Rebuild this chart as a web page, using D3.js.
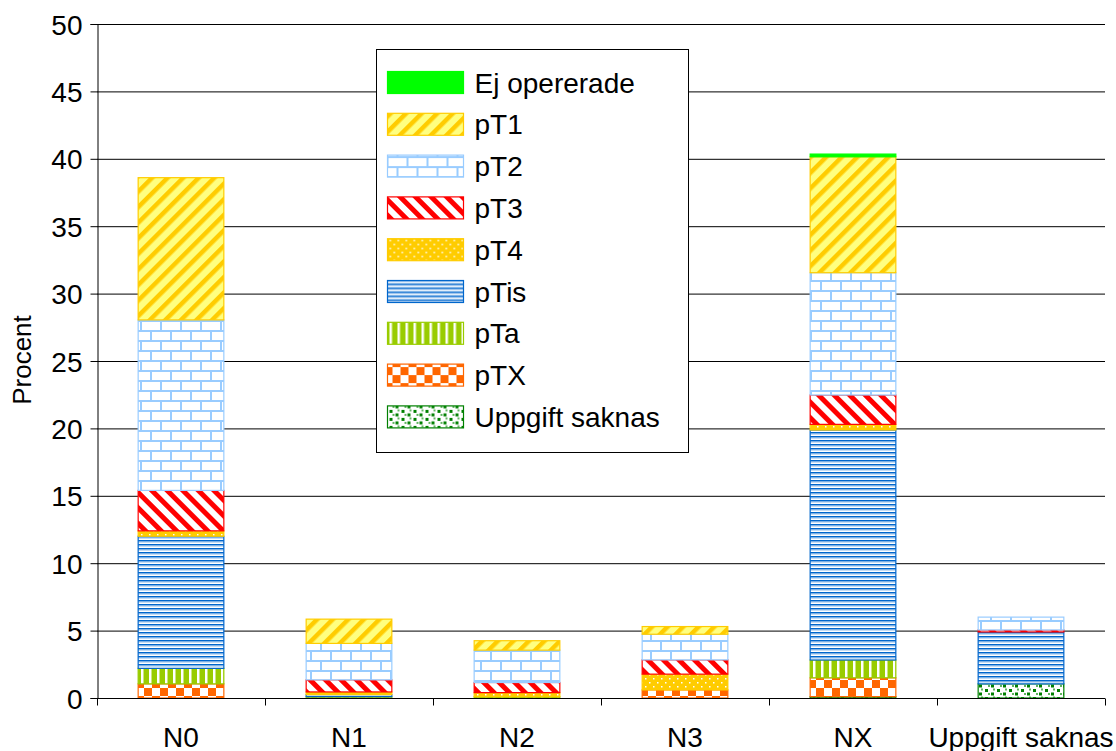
<!DOCTYPE html>
<html>
<head>
<meta charset="utf-8">
<script src="https://cdn.jsdelivr.net/npm/d3@7/dist/d3.min.js"></script>
<style>
  body { margin: 0; background: #fff; }
  text { font-family: "Liberation Sans", Arial, sans-serif; fill: #000; }
</style>
</head>
<body>
<div id="chart"></div>
<script>
'use strict';

// categories along the x axis
var categories = ['N0', 'N1', 'N2', 'N3', 'NX', 'Uppgift saknas'];

// series, bottom of the stack first
var seriesNames = ['Uppgift saknas', 'pTX', 'pTa', 'pTis', 'pT4', 'pT3', 'pT2', 'pT1', 'Ej opererade'];

var uppgiftSaknas = [0,    0,    0,    0,    0.1,  1.05];
var pTX           = [1.05, 0,    0,    0.6,  1.4,  0];
var pTa           = [1.15, 0.1,  0.1,  0,    1.32, 0];
var pTis          = [9.8,  0.15, 0,    0,    17.06, 3.85];
var pT4           = [0.4,  0.2,  0.3,  1.17, 0.42, 0];
var pT3           = [3.0,  0.9,  0.75, 1.06, 2.18, 0.15];
var pT2           = [12.65, 2.7, 2.4,  1.9,  9.07, 0.95];
var pT1           = [10.55, 1.8, 0.7,  0.57, 8.6,  0];
var ejOpererade   = [0,    0,    0,    0,    0.2,  0];

var yTicks = [0, 5, 10, 15, 20, 25, 30, 35, 40, 45, 50];

var seriesValues = [uppgiftSaknas, pTX, pTa, pTis, pT4, pT3, pT2, pT1, ejOpererade];

// table for d3.stack
var rows = categories.map(function(c, i){
  var row = { cat: c };
  seriesNames.forEach(function(s, j){ row[s] = seriesValues[j][i]; });
  return row;
});

var width = 1116, height = 751;
var plotLeft = 97, plotRight = 1105, plotTop = 24, plotBottom = 698;

var svg = d3.select('#chart').append('svg')
  .attr('width', width)
  .attr('height', height);

var defs = svg.append('defs');

// pattern helpers
var pat = function(id, w, h, transform){
  var p = defs.append('pattern')
    .attr('id', id)
    .attr('patternUnits', 'userSpaceOnUse')
    .attr('width', w)
    .attr('height', h);
  if(transform) p.attr('patternTransform', transform);
  return p;
};

// Ej opererade: solid green
pat('p-ej', 10, 10).append('rect').attr('width', 10).attr('height', 10).attr('fill', '#00ff00');

// pT1: wide upward diagonal, yellow
var p1 = pat('p-t1', 11, 11, 'rotate(45)');
p1.append('rect').attr('width', 11).attr('height', 11).attr('fill', '#ffff80');
p1.append('rect').attr('width', 4.5).attr('height', 11).attr('fill', '#ffcc00');

// pT2: bricks, light blue
var p2 = pat('p-t2', 20, 20);
p2.append('rect').attr('width', 20).attr('height', 20).attr('fill', '#fff');
p2.append('rect').attr('x', 0).attr('y', 0).attr('width', 20).attr('height', 2).attr('fill', '#99ccff');
p2.append('rect').attr('x', 0).attr('y', 10).attr('width', 20).attr('height', 2).attr('fill', '#99ccff');
p2.append('rect').attr('x', 0).attr('y', 0).attr('width', 2).attr('height', 10).attr('fill', '#99ccff');
p2.append('rect').attr('x', 10).attr('y', 10).attr('width', 2).attr('height', 10).attr('fill', '#99ccff');

// pT3: wide downward diagonal, red
var p3 = pat('p-t3', 11, 11, 'rotate(-45)');
p3.append('rect').attr('width', 11).attr('height', 11).attr('fill', '#fff');
p3.append('rect').attr('width', 5).attr('height', 11).attr('fill', '#ff0000');

// pT4: dotted yellow
var p4 = pat('p-t4', 8, 8);
p4.append('rect').attr('width', 8).attr('height', 8).attr('fill', '#ffcc00');
p4.append('rect').attr('x', 1).attr('y', 2).attr('width', 1.5).attr('height', 1.5).attr('fill', '#fff');
p4.append('rect').attr('x', 5).attr('y', 6).attr('width', 1.5).attr('height', 1.5).attr('fill', '#fff');

// pTis: narrow horizontal, blue
var pis = pat('p-tis', 8, 4);
pis.append('rect').attr('width', 8).attr('height', 4).attr('fill', '#fff');
pis.append('rect').attr('y', 0).attr('width', 8).attr('height', 1.6).attr('fill', '#0066cc');
pis.append('rect').attr('y', 1.6).attr('width', 8).attr('height', 1).attr('fill', '#9fc6ee');

// pTa: vertical stripes, yellow-green
var pa = pat('p-ta', 8, 8);
pa.append('rect').attr('width', 8).attr('height', 8).attr('fill', '#99cc00');
pa.append('rect').attr('x', 5).attr('width', 2.5).attr('height', 8).attr('fill', '#fff');

// pTX: checkerboard, orange
var px = pat('p-tx', 16, 16);
px.append('rect').attr('width', 16).attr('height', 16).attr('fill', '#fff');
px.append('rect').attr('width', 8).attr('height', 8).attr('fill', '#ff6600');
px.append('rect').attr('x', 8).attr('y', 8).attr('width', 8).attr('height', 8).attr('fill', '#ff6600');

// Uppgift saknas: green squares
var pu = pat('p-us', 12, 8);
pu.append('rect').attr('width', 12).attr('height', 8).attr('fill', '#fff');
pu.append('rect').attr('x', 1).attr('y', 1).attr('width', 3).attr('height', 3).attr('fill', '#008000');
pu.append('rect').attr('x', 7).attr('y', 4.5).attr('width', 3).attr('height', 3).attr('fill', '#008000');
pu.append('rect').attr('x', 4).attr('y', 5).attr('width', 2).attr('height', 2).attr('fill', '#5fb35f');
pu.append('rect').attr('x', 9).attr('y', 0.5).attr('width', 2).attr('height', 2).attr('fill', '#5fb35f');

var fills = {
  'Ej opererade': 'url(#p-ej)',
  'pT1': 'url(#p-t1)',
  'pT2': 'url(#p-t2)',
  'pT3': 'url(#p-t3)',
  'pT4': 'url(#p-t4)',
  'pTis': 'url(#p-tis)',
  'pTa': 'url(#p-ta)',
  'pTX': 'url(#p-tx)',
  'Uppgift saknas': 'url(#p-us)'
};
var strokes = {
  'Ej opererade': '#00ff00',
  'pT1': '#ffcc00',
  'pT2': '#99ccff',
  'pT3': '#ff0000',
  'pT4': '#ffcc00',
  'pTis': '#0066cc',
  'pTa': '#99cc00',
  'pTX': '#ff6600',
  'Uppgift saknas': '#008000'
};

var x = d3.scaleBand().domain(categories).range([plotLeft, plotRight]).paddingInner(0.49).paddingOuter(0.245);
var xOuter = d3.scaleBand().domain(categories).range([plotLeft, plotRight]);
var y = d3.scaleLinear().domain([0, 50]).range([plotBottom, plotTop]);

// gridlines
svg.append('g')
  .selectAll('line').data(yTicks.filter(function(d){ return d > 0; }))
  .enter().append('line')
  .attr('x1', plotLeft).attr('x2', plotRight)
  .attr('y1', function(d){ return y(d) + 0.5; })
  .attr('y2', function(d){ return y(d) + 0.5; })
  .attr('stroke', '#000').attr('stroke-width', 1);

// bars
var stack = d3.stack().keys(seriesNames)(rows);
svg.append('g').selectAll('g').data(stack)
  .enter().append('g')
  .each(function(layer){
    d3.select(this).selectAll('rect').data(layer.filter(function(d){ return d[1] - d[0] > 0; }))
      .enter().append('rect')
      .attr('x', function(d){ return x(d.data.cat); })
      .attr('width', x.bandwidth())
      .attr('y', function(d){ return y(d[1]); })
      .attr('height', function(d){ return Math.max(1, y(d[0]) - y(d[1])); })
      .attr('fill', fills[layer.key])
      .attr('stroke', strokes[layer.key])
      .attr('stroke-width', 1.2);
  });

// y axis
var yAxis = svg.append('g')
  .attr('transform', 'translate(' + (plotLeft + 0.5) + ',0)')
  .call(d3.axisLeft(y).tickValues(yTicks).tickSize(7).tickPadding(8));
yAxis.select('.domain').attr('stroke', '#000');
yAxis.selectAll('line').attr('stroke', '#000');
yAxis.selectAll('text').style('font-size', '28px').attr('dy', '0.36em');

// x axis: ticks on category boundaries
var xAxisG = svg.append('g').attr('transform', 'translate(0,' + (plotBottom + 0.5) + ')');
xAxisG.append('line').attr('x1', plotLeft).attr('x2', plotRight).attr('stroke', '#000');
xAxisG.selectAll('line.tick').data(categories.concat(['end']))
  .enter().append('line').attr('class', 'tick')
  .attr('x1', function(d, i){ return (i < categories.length ? xOuter(d) : plotRight) + 0.5; })
  .attr('x2', function(d, i){ return (i < categories.length ? xOuter(d) : plotRight) + 0.5; })
  .attr('y1', 0).attr('y2', 7)
  .attr('stroke', '#000');
xAxisG.selectAll('text').data(categories)
  .enter().append('text')
  .attr('x', function(d){ return xOuter(d) + xOuter.bandwidth() / 2; })
  .attr('y', 48)
  .attr('text-anchor', 'middle')
  .style('font-size', '28px')
  .text(function(d){ return d; });

// y title
svg.append('text')
  .attr('transform', 'translate(31,360) rotate(-90)')
  .attr('text-anchor', 'middle')
  .style('font-size', '26px')
  .text('Procent');

// legend, top of stack first
var legendItems = seriesNames.slice().reverse();
var legend = svg.append('g').attr('transform', 'translate(376.5,49.5)');
legend.append('rect').attr('width', 312).attr('height', 403)
  .attr('fill', '#fff').attr('stroke', '#000').attr('stroke-width', 1);
var li = legend.selectAll('g.item').data(legendItems)
  .enter().append('g').attr('class', 'item')
  .attr('transform', function(d, i){ return 'translate(0,' + (33 + i * 41.8) + ')'; });
li.append('rect')
  .attr('x', 11).attr('y', -11).attr('width', 76).attr('height', 22)
  .attr('fill', function(d){ return fills[d]; })
  .attr('stroke', function(d){ return strokes[d]; })
  .attr('stroke-width', 1.2);
li.append('text')
  .attr('x', 98).attr('dy', '0.36em')
  .style('font-size', '28px')
  .text(function(d){ return d; });
</script>
</body>
</html>
